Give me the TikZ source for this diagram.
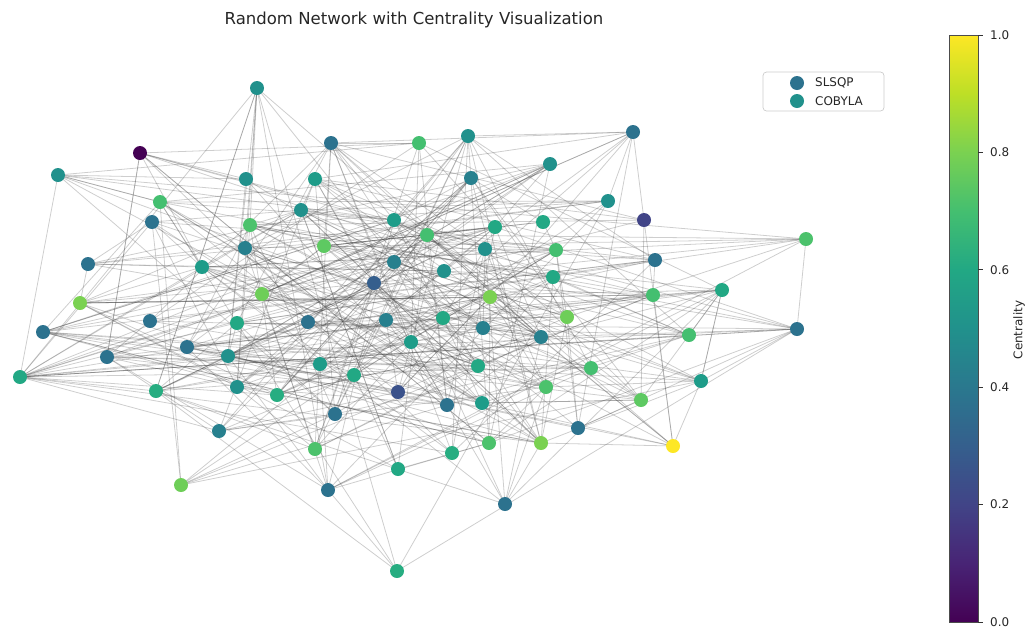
\documentclass[tikz,border=0pt]{standalone}
\usepackage{fontspec}
\setmainfont{DejaVu Sans}
\pgfdeclarelayer{edgelayer}
\pgfsetlayers{edgelayer,main}
\definecolor{va}{HTML}{440154}
\definecolor{vb}{HTML}{482475}
\definecolor{vc}{HTML}{414487}
\definecolor{vd}{HTML}{355F8D}
\definecolor{ve}{HTML}{2A788E}
\definecolor{vf}{HTML}{21918C}
\definecolor{vg}{HTML}{22A884}
\definecolor{vh}{HTML}{44BF70}
\definecolor{vi}{HTML}{7AD151}
\definecolor{vj}{HTML}{BDDF26}
\definecolor{vk}{HTML}{FDE725}
\definecolor{c00}{HTML}{440154}
\definecolor{c20}{HTML}{414487}
\definecolor{c25}{HTML}{3B528B}
\definecolor{c30}{HTML}{355F8D}
\definecolor{c40}{HTML}{2C728E}
\definecolor{c45}{HTML}{27808E}
\definecolor{c50}{HTML}{21918C}
\definecolor{c55}{HTML}{1E9C89}
\definecolor{c60}{HTML}{22A884}
\definecolor{c62}{HTML}{27AD81}
\definecolor{c70}{HTML}{44BF70}
\definecolor{c72}{HTML}{4CC26C}
\definecolor{c75}{HTML}{5EC962}
\definecolor{c78}{HTML}{6ECE58}
\definecolor{c80}{HTML}{7AD151}
\definecolor{c100}{HTML}{FDE725}
\pgfdeclareverticalshading{viridis}{100bp}{color(0bp)=(va); color(25bp)=(va); color(30bp)=(vb); color(35bp)=(vc); color(40bp)=(vd); color(45bp)=(ve); color(50bp)=(vf); color(55bp)=(vg); color(60bp)=(vh); color(65bp)=(vi); color(70bp)=(vj); color(75bp)=(vk); color(100bp)=(vk)}
\tikzset{
  dot/.style={circle, inner sep=0pt, minimum size=0.28cm, draw=none},
  edge/.style={draw=black!75, line width=0.45pt, opacity=0.26},
  lbl/.style={font=\fontsize{6.8}{8}\selectfont, text=black!85},
}
\begin{document}
\begin{tikzpicture}[x=0.02cm, y=-0.02cm]
\useasboundingbox (0,0) rectangle (1030,630);
% title
\node[font=\fontsize{9.4}{11}\selectfont, text=black!85] (title) at (414,20) {Random Network with Centrality Visualization};
% nodes
\foreach \i/\x/\y/\c in {
1/257/88/c50, 2/140/153/c00, 3/58/175/c50, 4/331/143/c40, 5/419/143/c70,
6/468/136/c50, 7/633/132/c40, 8/550/164/c50, 9/246/179/c50, 10/315/179/c55,
11/471/178/c45, 12/608/201/c50, 13/160/202/c70, 14/152/222/c40, 15/301/210/c50,
16/250/225/c72, 17/394/220/c55, 18/495/227/c60, 19/543/222/c60, 20/644/220/c20,
21/427/235/c70, 22/324/246/c75, 23/245/248/c45, 24/485/249/c50, 25/556/250/c70,
26/88/264/c40, 27/202/267/c55, 28/394/262/c45, 29/444/271/c50, 30/655/260/c40,
31/806/239/c72, 32/553/277/c60, 33/374/283/c30, 34/262/294/c78, 35/80/303/c80,
36/490/297/c80, 37/653/295/c70, 38/722/290/c60, 39/150/321/c40, 40/237/323/c60,
41/308/322/c40, 42/386/320/c45, 43/443/318/c60, 44/483/328/c45, 45/567/317/c78,
46/43/332/c40, 47/797/329/c40, 48/187/347/c40, 49/228/356/c50, 50/411/342/c55,
51/541/337/c45, 52/689/335/c70, 53/107/357/c40, 54/320/364/c55, 55/354/375/c60,
56/478/366/c60, 57/591/368/c70, 58/20/377/c60, 59/156/391/c62, 60/237/387/c50,
61/277/395/c62, 62/398/392/c25, 63/546/387/c72, 64/701/381/c55, 65/335/414/c40,
66/447/405/c40, 67/482/403/c55, 68/641/400/c75, 69/219/431/c45, 70/315/449/c72,
71/452/453/c62, 72/489/443/c72, 73/541/443/c80, 74/578/428/c40, 75/673/446/c100,
76/398/469/c60, 77/181/485/c78, 78/328/490/c40, 79/505/504/c40, 80/397/571/c62}
  \node[dot, fill=\c] (n\i) at (\x,\y) {};
% edges
\begin{pgfonlayer}{edgelayer}
\pgfmathsetseed{4242}
\foreach \k in {1,...,460} {
  \pgfmathrandominteger{\ea}{1}{80}
  \pgfmathrandominteger{\eb}{1}{80}
  \ifnum\ea=\eb\else
    \draw[edge] (n\ea.center) -- (n\eb.center);
  \fi
}
\end{pgfonlayer}
% legend
\draw[black!20, fill=white, fill opacity=0.8, rounded corners=2pt, line width=0.4pt] (763,72) rectangle (884,111);
\node[dot, fill=c40] (lg1) at (797,83) {};
\node[dot, fill=c50] (lg2) at (797,101) {};
\node[lbl, anchor=west] (lt1) at (809,83) {SLSQP};
\node[lbl, anchor=west] (lt2) at (809,101) {COBYLA};
% colorbar
\shade[shading=viridis] (949,35) rectangle (978,622);
\draw[black!70, line width=0.3pt] (949,35) rectangle (978,622);
\foreach \v/\t in {0/0.0, 0.2/0.2, 0.4/0.4, 0.6/0.6, 0.8/0.8, 1/1.0} {
  \draw[black!80, line width=0.4pt] (978,{622-587*\v}) -- (983,{622-587*\v});
  \node[lbl, anchor=west] at (984,{622-587*\v}) {\t};
}
\node[lbl, rotate=90] (cbl) at (1019,330) {Centrality};
\end{tikzpicture}
\end{document}
